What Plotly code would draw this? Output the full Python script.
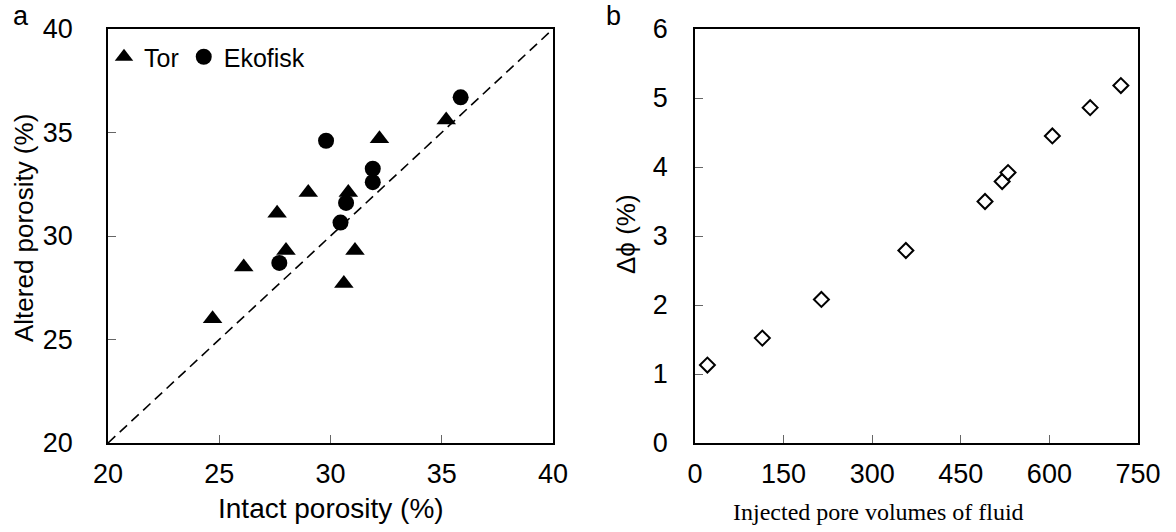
import plotly.graph_objects as go

# Panel a data
tor_intact = [24.7, 26.1, 27.6, 28.0, 29.0, 30.6, 30.8, 31.1, 32.2, 35.2]
tor_altered = [26.0, 28.5, 31.1, 29.3, 32.1, 27.7, 32.1, 29.3, 34.7, 35.6]
eko_intact = [27.7, 29.8, 30.45, 30.7, 31.9, 31.9, 35.85]
eko_altered = [28.7, 34.6, 30.65, 31.6, 33.25, 32.6, 36.7]
one_to_one = [20, 40]

# Panel b data
pore_volumes = [21, 114, 214, 357, 491, 520, 530, 605, 669, 721]
delta_phi = [1.13, 1.52, 2.08, 2.79, 3.50, 3.79, 3.92, 4.45, 4.86, 5.18]

a_ticks = [20, 25, 30, 35, 40]
b_xticks = [0, 150, 300, 450, 600, 750]
b_yticks = [0, 1, 2, 3, 4, 5, 6]

W, H = 1176, 532
SANS = "Liberation Sans, Arial, sans-serif"
SERIF = "Liberation Serif, Times New Roman, serif"

fig = go.Figure()

fig.add_trace(go.Scatter(x=one_to_one, y=one_to_one, mode="lines",
                         line=dict(color="black", width=1.6, dash="10px,6px"),
                         showlegend=False, xaxis="x", yaxis="y", hoverinfo="skip"))
fig.add_trace(go.Scatter(x=tor_intact, y=tor_altered, mode="markers", name="Tor",
                         marker=dict(symbol="triangle-up", size=17, color="black"),
                         xaxis="x", yaxis="y"))
fig.add_trace(go.Scatter(x=eko_intact, y=eko_altered, mode="markers", name="Ekofisk",
                         marker=dict(symbol="circle", size=16, color="black"),
                         xaxis="x", yaxis="y"))
fig.add_trace(go.Scatter(x=pore_volumes, y=delta_phi, mode="markers", showlegend=False,
                         marker=dict(symbol="diamond", size=11.5, color="white",
                                     line=dict(color="black", width=2)),
                         xaxis="x2", yaxis="y2"))

def px_x(p):
    return p / W

def px_y(p):
    return 1 - p / H

axis_common = dict(showline=True, linecolor="black", linewidth=1.5, mirror=True,
                   ticks="inside", ticklen=8, tickcolor="#666", tickwidth=1,
                   showgrid=False, zeroline=False, automargin=False,
                   tickfont=dict(family=SANS, size=27, color="black"))

fig.update_layout(
    width=W, height=H,
    margin=dict(l=0, r=0, t=0, b=0, pad=0, autoexpand=False),
    paper_bgcolor="white", plot_bgcolor="white",
    xaxis=dict(domain=[px_x(108), px_x(553)], range=[20, 40], tickvals=a_ticks,
               anchor="y", ticklabelstandoff=6, **axis_common),
    yaxis=dict(domain=[px_y(443), px_y(29)], range=[20, 40], tickvals=a_ticks,
               anchor="x", ticklabelstandoff=28, **axis_common),
    xaxis2=dict(domain=[px_x(695), px_x(1138)], range=[0, 750], tickvals=b_xticks,
                anchor="y2", ticklabelstandoff=6, **axis_common),
    yaxis2=dict(domain=[px_y(443), px_y(29)], range=[0, 6], tickvals=b_yticks,
                anchor="x2", ticklabelstandoff=20, **axis_common),
    legend=dict(orientation="h", x=px_x(104), y=px_y(34), xanchor="left", yanchor="top",
                bgcolor="rgba(0,0,0,0)", font=dict(family=SANS, size=25, color="black"),
                itemwidth=30, tracegroupgap=0),
    showlegend=True,
)

annotations = [
    dict(text="a", x=px_x(21), y=px_y(16), font=dict(family=SANS, size=27)),
    dict(text="b", x=px_x(613), y=px_y(16), font=dict(family=SANS, size=27)),
    dict(text="Altered porosity (%)", x=px_x(24), y=px_y(228), textangle=-90,
         font=dict(family=SANS, size=26)),
    dict(text="Intact porosity (%)", x=px_x(331), y=px_y(508),
         font=dict(family=SANS, size=28)),
    dict(text="Δϕ (%)", x=px_x(626), y=px_y(234), textangle=-90,
         font=dict(family=SANS, size=26)),
    dict(text="Injected pore volumes of fluid", x=px_x(878), y=px_y(512),
         font=dict(family=SERIF, size=24)),
]
fig.update_layout(annotations=[dict(a, xref="paper", yref="paper", showarrow=False,
                                    xanchor="center", yanchor="middle",
                                    font=dict(a["font"], color="black"))
                               for a in annotations])

fig.write_html("out.html")
